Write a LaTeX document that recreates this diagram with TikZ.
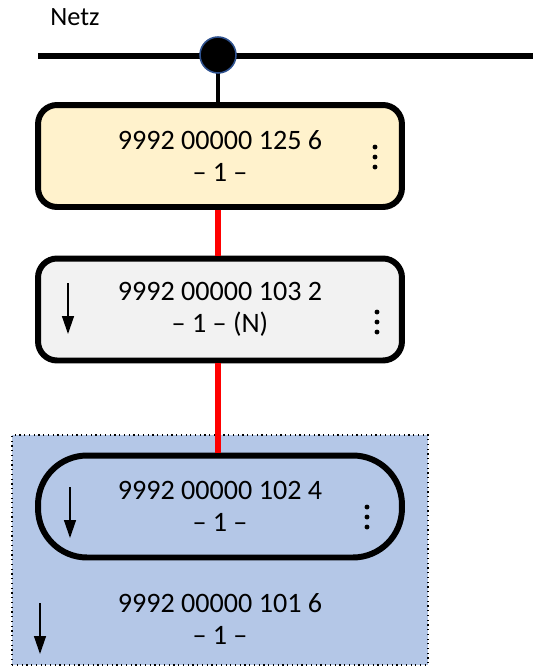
\documentclass[tikz,border=0pt]{standalone}
\usepackage{fontspec}
\setmainfont{Carlito}
\usetikzlibrary{arrows.meta}

\definecolor{cream}{HTML}{FFF2CC}
\definecolor{paleGrey}{HTML}{F2F2F2}
\definecolor{groupBlue}{HTML}{B4C7E7}
\definecolor{tapRim}{HTML}{2F528F}

\begin{document}
\begin{tikzpicture}[
		x=0.02cm, y=-0.02cm,
		box/.style={
			draw,
			line width=3.4pt,
			rounded corners=0.38cm,
			align=center,
			minimum width=7.28cm,
			minimum height=2.04cm,
			inner sep=0pt,
			font=\fontsize{16}{18.5}\selectfont
		},
		pill/.style={box, rounded corners=0.98cm},
		label/.style={align=center, inner sep=0pt, font=\fontsize{16}{18.5}\selectfont},
		bus/.style={draw, line width=2.9pt},
		line/.style={draw, line width=2.4pt},
		feed/.style={draw, red, line width=2.9pt},
		junction/.style={circle, fill=black, draw=tapRim, line width=0.9pt,
			minimum size=0.72cm, inner sep=0pt},
		down/.style={draw, line width=0.8pt, -{Triangle[length=3.6mm, width=2.4mm]}},
		more/.pic={\foreach \d in {-10,0,10} \fill (0,\d) circle (1.4pt);}
		]
		
		\useasboundingbox (0,0) rectangle (533,667);
		
		% Network bus
		\coordinate (busl) at (38,56);
		\coordinate (busr) at (533,56);
		\coordinate (tap) at (218,55);
		\node[font=\fontsize{15}{18}\selectfont, anchor=base west, inner sep=0pt] (netz) at (50,25) {Netz};
		\draw[bus] (busl) -- (busr);
		
		% Group background
		\node[draw, dotted, line width=0.7pt, fill=groupBlue, minimum width=8.32cm,
			minimum height=4.6cm, inner sep=0pt] (grp) at (220,550) {};
		
		% Stations
		\node[box, fill=cream] (top) at (220,156) {9992 00000 125 6\\-- 1 --};
		\node[box, fill=paleGrey] (mid) at (220,309.5) {9992 00000 103 2\\-- 1 -- (N)};
		\node[pill] (low) at (220,506.5) {9992 00000 102 4\\-- 1 --};
		\node[label] (last) at (220,619) {9992 00000 101 6\\-- 1 --};
		
		% Stem and feeders
		\draw[line] (tap) -- (tap |- top.north);
		\draw[feed] (top.south -| tap) -- (mid.north -| tap);
		\draw[feed] (mid.south -| tap) -- (low.north -| tap);
		\node[junction] (dot) at (tap) {};
		
		% Direction marks
		\draw[down] (68,283) -- (68,334);
		\draw[down] (70,487) -- (70,538);
		\draw[down] (40,603) -- (40,654);
		
		% More entries
		\pic at (375,157) {more};
		\pic at (377,322) {more};
		\pic at (367,517) {more};
		
	\end{tikzpicture}
\end{document}
